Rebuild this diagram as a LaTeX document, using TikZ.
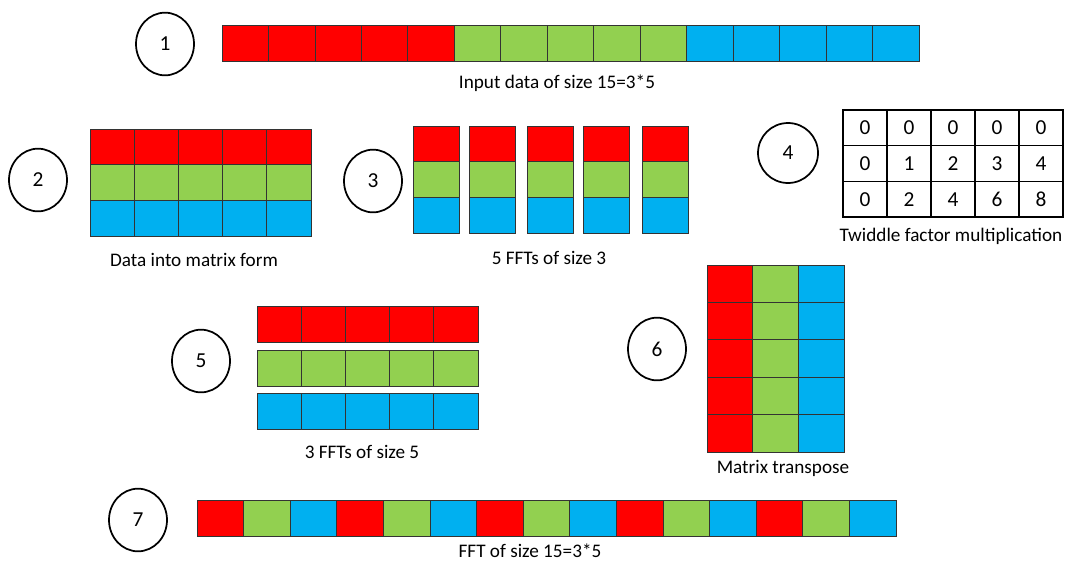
\documentclass[tikz,border=0pt]{standalone}
\usepackage{fontspec}
\setmainfont{Carlito}
\usetikzlibrary{shapes.geometric}
\definecolor{cellred}{HTML}{FF0000}
\definecolor{cellgreen}{HTML}{92D050}
\definecolor{cellblue}{HTML}{00B0F0}

\begin{document}
\begin{tikzpicture}[
    x=0.75pt, y=-0.75pt,
    cell/.style={rectangle, draw=black!80, line width=0.6pt, anchor=north west, inner sep=0pt, outer sep=0pt},
    stepnum/.style={ellipse, draw, line width=1.3pt, minimum width=43.5pt, minimum height=47pt, inner sep=0pt, font=\fontsize{16}{18}\selectfont},
    caption/.style={inner sep=0pt, font=\fontsize{14.4}{16}\selectfont},
    twiddle/.style={cell, draw=black, line width=0.8pt, fill=white, minimum width=33pt, minimum height=26.75pt, font=\fontsize{16}{18}\selectfont}
]
\useasboundingbox (0,0) rectangle (1070,568);

% 1: input data
\node[stepnum] (s1) at (165,44) {1};
\foreach \c [count=\i from 0] in {cellred,cellred,cellred,cellred,cellred,cellgreen,cellgreen,cellgreen,cellgreen,cellgreen,cellblue,cellblue,cellblue,cellblue,cellblue}
    \node[cell, fill=\c, minimum width=34.85pt, minimum height=27pt] (in\i) at (222+46.47*\i,25) {};
\node[caption] (cap1) at (557,83) {Input data of size 15=3*5};

% 2: matrix form
\node[stepnum] (s2) at (38,180) {2};
\foreach \c [count=\r from 0] in {cellred,cellgreen,cellblue}
    \foreach \j in {0,...,4}
        \node[cell, fill=\c, minimum width=33.15pt, minimum height=26.75pt] (mat\r\j) at (90+44.2*\j,129+35.67*\r) {};
\node[caption] (cap2) at (194,260) {Data into matrix form};

% 3: column FFTs
\node[stepnum] (s3) at (373,181) {3};
\foreach \x [count=\j from 0] in {413,469,527,583,642}
    \foreach \c [count=\r from 0] in {cellred,cellgreen,cellblue}
        \node[cell, fill=\c, minimum width=35pt, minimum height=26.75pt] (col\j\r) at (\x,126+35.67*\r) {};
\node[caption] (cap3) at (549,258) {5 FFTs of size 3};

% 4: twiddle factors
\node[stepnum, minimum width=45pt, minimum height=45pt] (s4) at (788,153) {4};
\foreach \r in {0,1,2}
    \foreach \j in {0,...,4} {
        \pgfmathtruncatemacro\tw{\r*\j}
        \node[twiddle] (twd\r\j) at (843+44*\j,110+35.67*\r) {\tw};
    }
\node[caption] (cap4) at (951,236) {Twiddle factor multiplication};

% 5: row FFTs
\node[stepnum] (s5) at (201,361) {5};
\foreach \c/\y [count=\r from 0] in {cellred/306,cellgreen/350,cellblue/393}
    \foreach \j in {0,...,4}
        \node[cell, fill=\c, minimum width=33.15pt, minimum height=27pt] (row\r\j) at (257+44.2*\j,\y) {};
\node[caption] (cap5) at (362,452) {3 FFTs of size 5};

% 6: transpose
\node[stepnum] (s6) at (657,349) {6};
\foreach \c [count=\j from 0] in {cellred,cellgreen,cellblue}
    \foreach \r in {0,...,4}
        \node[cell, fill=\c, minimum width=34.25pt, minimum height=28.05pt] (tr\r\j) at (707+45.67*\j,265+37.4*\r) {};
\node[caption] (cap6) at (783,468) {Matrix transpose};

% 7: output
\node[stepnum] (s7) at (138,520) {7};
\foreach \c [count=\i from 0] in {cellred,cellgreen,cellblue,cellred,cellgreen,cellblue,cellred,cellgreen,cellblue,cellred,cellgreen,cellblue,cellred,cellgreen,cellblue}
    \node[cell, fill=\c, minimum width=34.95pt, minimum height=27pt] (out\i) at (197+46.6*\i,500) {};
\node[caption] (cap7) at (530,551) {FFT of size 15=3*5};
\end{tikzpicture}
\end{document}
